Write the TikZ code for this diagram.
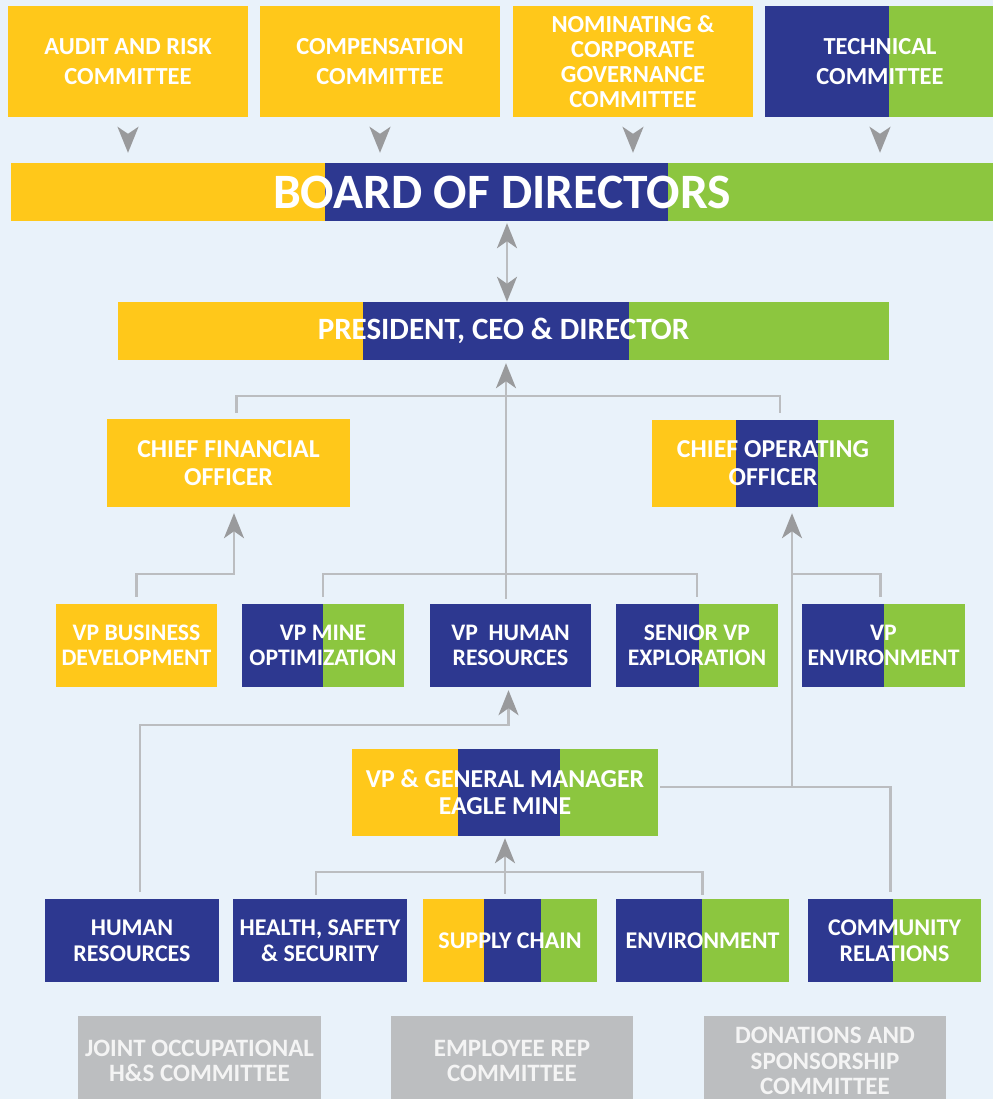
\documentclass[tikz,border=0pt]{standalone}
\usepackage{fontspec}
\setmainfont{Carlito}
\usetikzlibrary{arrows.meta}
\definecolor{cy}{HTML}{FFC81A}
\definecolor{cb}{HTML}{2D3890}
\definecolor{cg}{HTML}{8CC63F}
\definecolor{bgc}{HTML}{E9F2FA}
\definecolor{lnc}{HTML}{BBBDC0}
\definecolor{ahc}{HTML}{999A9C}
\definecolor{gbox}{HTML}{BCBEC0}
\definecolor{gtxt}{HTML}{F4F4F4}
\newcommand\trifill[6]{\fill[cy] (#1,#2) rectangle (#5,#4); \fill[cb] (#5,#2) rectangle (#6,#4); \fill[cg] (#6,#2) rectangle (#3,#4);}
\newcommand\duofill[5]{\fill[cb] (#1,#2) rectangle (#5,#4); \fill[cg] (#5,#2) rectangle (#3,#4);}
\begin{document}
\begin{tikzpicture}[x=1pt,y=-1pt,
  lbl/.style={align=center, text=white, inner sep=0pt},
  fcom/.style={lbl, font=\bfseries\fontsize{24.5}{30}\selectfont},
  fnom/.style={lbl, font=\bfseries\fontsize{24.5}{25}\selectfont},
  fboard/.style={lbl, font=\bfseries\fontsize{49.5}{52}\selectfont},
  fceo/.style={lbl, font=\bfseries\fontsize{31}{33}\selectfont},
  fchief/.style={lbl, font=\bfseries\fontsize{25.8}{28}\selectfont},
  fvp/.style={lbl, font=\bfseries\fontsize{23.7}{25}\selectfont},
  fgm/.style={lbl, font=\bfseries\fontsize{25.8}{27}\selectfont},
  fbot/.style={lbl, font=\bfseries\fontsize{24}{26}\selectfont},
  fgray/.style={lbl, text=gtxt, fill=gbox, font=\bfseries\fontsize{25}{25.5}\selectfont},
  conn/.style={draw=lnc, line width=2.6pt},
  arrowup/.style={-{Stealth[color=ahc, fill=ahc, length=25pt, width=20pt, inset=7pt]}},
  dblarrow/.style={{Stealth[color=ahc, fill=ahc, length=25pt, width=20pt, inset=7pt]}-{Stealth[color=ahc, fill=ahc, length=25pt, width=20pt, inset=7pt]}},
  comarrow/.style={draw=ahc, line width=2pt, -{Stealth[color=ahc, fill=ahc, length=26pt, width=21pt, inset=7pt]}, shorten <=17pt, shorten >=10pt}
]
\useasboundingbox (0,0) rectangle (993,1099);
\clip (0,0) rectangle (993,1099);
\fill[bgc] (0,0) rectangle (993,1099);

% committees
\node[fcom, fill=cy, minimum width=240pt, minimum height=111pt] (aud) at (128,61.5) {AUDIT AND RISK\\COMMITTEE};
\node[fcom, fill=cy, minimum width=240pt, minimum height=111pt] (comp) at (380,61.5) {COMPENSATION\\COMMITTEE};
\node[fnom, fill=cy, minimum width=240pt, minimum height=111pt] (nom) at (633,61.5) {NOMINATING \&\\CORPORATE\\GOVERNANCE\\COMMITTEE};
\duofill{765}{6}{993}{117}{889}
\node[fcom, minimum width=228pt, minimum height=111pt] (tech) at (880,61.5) {TECHNICAL\\COMMITTEE};

% board
\trifill{11}{163}{993}{221}{325}{668}
\node[fboard, minimum width=982pt, minimum height=58pt] (board) at (502,192) {BOARD OF DIRECTORS};

% ceo
\trifill{118}{302}{889}{360}{363}{629}
\node[fceo, minimum width=771pt, minimum height=58pt] (ceo) at (503.5,331) {PRESIDENT, CEO \& DIRECTOR};

% chiefs
\node[fchief, fill=cy, minimum width=243pt, minimum height=88pt] (cfo) at (228.5,463) {CHIEF FINANCIAL\\OFFICER};
\trifill{652}{420}{894}{507}{736}{818}
\node[fchief, minimum width=242pt, minimum height=87pt] (coo) at (773,463.5) {CHIEF OPERATING\\OFFICER};

% VP row
\node[fvp, fill=cy, minimum width=161pt, minimum height=83pt] (vpbd) at (136.5,645.5) {VP BUSINESS\\DEVELOPMENT};
\duofill{242}{604}{404}{687}{323}
\node[fvp, minimum width=162pt, minimum height=83pt] (vpmo) at (323,645.5) {VP MINE\\OPTIMIZATION};
\node[fvp, fill=cb, minimum width=161pt, minimum height=83pt] (vphr) at (510.5,645.5) {VP\ \ HUMAN\\RESOURCES};
\duofill{616}{604}{778}{687}{699}
\node[fvp, minimum width=162pt, minimum height=83pt] (svp) at (697,645.5) {SENIOR VP\\EXPLORATION};
\duofill{802}{604}{965}{687}{884}
\node[fvp, minimum width=163pt, minimum height=83pt] (vpenv) at (883.5,645.5) {VP\\ENVIRONMENT};

% GM
\trifill{352}{749}{658}{836}{458}{560}
\node[fgm, minimum width=306pt, minimum height=87pt] (gm) at (505,792.5) {VP \& GENERAL MANAGER\\EAGLE MINE};

% bottom row
\node[fbot, fill=cb, minimum width=174pt, minimum height=83pt] (hr) at (132,940.5) {HUMAN\\RESOURCES};
\node[fbot, fill=cb, minimum width=174pt, minimum height=83pt] (hss) at (320,940.5) {HEALTH, SAFETY\\\& SECURITY};
\trifill{423}{899}{597}{982}{484}{541}
\node[fbot, minimum width=174pt, minimum height=83pt] (sc) at (510,940.5) {SUPPLY CHAIN};
\duofill{616}{899}{789}{982}{702}
\node[fbot, minimum width=173pt, minimum height=83pt] (env) at (702.5,940.5) {ENVIRONMENT};
\duofill{808}{899}{981}{982}{893}
\node[fbot, minimum width=173pt, minimum height=83pt] (comm) at (894.5,940.5) {COMMUNITY\\RELATIONS};

% gray committees
\node[fgray, minimum width=243pt, minimum height=90pt] (joint) at (199.5,1061) {JOINT OCCUPATIONAL\\H\&S COMMITTEE};
\node[fgray, minimum width=242pt, minimum height=90pt] (emp) at (512,1061) {EMPLOYEE REP\\COMMITTEE};
\node[fgray, minimum width=242pt, minimum height=90pt] (don) at (825,1061) {DONATIONS AND\\SPONSORSHIP\\COMMITTEE};

% junction coordinates
\coordinate (dx) at (507,0);
\coordinate (tr) at (506,396);
\coordinate (cfoj) at (234,574);
\coordinate (midj) at (506,574);
\coordinate (cooj) at (792,574);
\coordinate (gmj) at (792,787);
\coordinate (hrj) at (508.5,725);
\coordinate (bj) at (505,872);

% committee arrows
\foreach \n in {aud,comp,nom,tech}
  \draw[comarrow] (\n.south) -- (\n.south |- board.north);

% board <-> ceo
\draw[conn, dblarrow, shorten <=2pt] (board.south -| dx) -- (ceo.north -| dx);

% top bracket and trunk
\draw[conn] ([xshift=8pt,yshift=6pt]cfo.north) |- (tr) -| ([xshift=7pt,yshift=7pt]coo.north);
\draw[conn, arrowup, shorten <=5pt, shorten >=3pt] (vphr.north -| tr) -- (ceo.south -| tr);

% cfo
\draw[conn, arrowup, shorten <=7pt, shorten >=6pt] (vpbd.north) |- (cfoj) -- (cfo.south -| cfoj);
% middle bracket
\draw[conn, shorten <=7pt, shorten >=7pt] (vpmo.north) |- (midj) -| (svp.north);
% coo
\draw[conn, arrowup, shorten >=6pt] (gmj) -- (coo.south -| gmj);
\draw[conn, shorten >=7pt] (cooj) -| ([xshift=-3pt]vpenv.north);
% vp hr
\draw[conn, arrowup, shorten <=7pt, shorten >=3pt] ([xshift=8pt]hr.north) |- (hrj) -- (vphr.south -| hrj);
% gm right
\draw[conn, shorten <=2pt, shorten >=7pt] (gm.east |- gmj) -| ([xshift=-4pt]comm.north);
% gm bottom
\draw[conn, arrowup, shorten <=5pt, shorten >=2pt] (sc.north -| gm.south) -- (gm.south);
\draw[conn, shorten <=4pt, shorten >=4pt] ([xshift=-4pt]hss.north) |- (bj) -| (env.north);
\end{tikzpicture}
\end{document}
